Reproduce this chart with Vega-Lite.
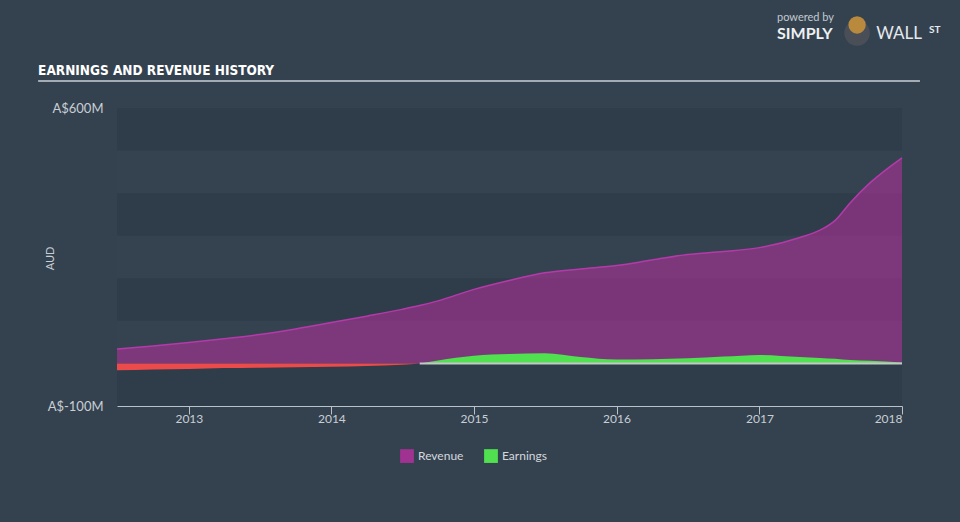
{
  "$schema": "https://vega.github.io/schema/vega-lite/v6.json",
  "width": 785,
  "height": 298,
  "autosize": {"type": "none"},
  "padding": {"left": 117, "top": 108, "right": 58, "bottom": 116},
  "background": "#344250",
  "config": {
    "font": "Lato",
    "view": {"fill": "#2f3c4a", "stroke": null},
    "legend": {
      "orient": "none",
      "legendX": 283,
      "legendY": 341,
      "direction": "horizontal",
      "symbolType": "square",
      "symbolSize": 190,
      "symbolOpacity": 1,
      "symbolStrokeWidth": 0,
      "labelFontSize": 12,
      "labelColor": "#d4d8dd",
      "columnPadding": 20,
      "padding": 0,
      "title": null
    }
  },
  "datasets": {
    "hist": [
      {"date": "2012-07-01", "revenue": 34, "earnings": -16},
      {"date": "2012-10-01", "revenue": 41, "earnings": -14},
      {"date": "2013-01-01", "revenue": 49, "earnings": -13},
      {"date": "2013-04-01", "revenue": 58, "earnings": -11},
      {"date": "2013-07-01", "revenue": 68, "earnings": -10},
      {"date": "2013-10-01", "revenue": 81, "earnings": -9},
      {"date": "2014-01-01", "revenue": 96, "earnings": -8},
      {"date": "2014-04-01", "revenue": 111, "earnings": -6},
      {"date": "2014-07-01", "revenue": 127, "earnings": -3},
      {"date": "2014-08-15", "revenue": 136, "earnings": 0},
      {"date": "2014-10-01", "revenue": 147, "earnings": 7},
      {"date": "2015-01-01", "revenue": 174, "earnings": 18},
      {"date": "2015-04-01", "revenue": 195, "earnings": 22},
      {"date": "2015-07-01", "revenue": 213, "earnings": 24},
      {"date": "2015-10-01", "revenue": 222, "earnings": 15},
      {"date": "2016-01-01", "revenue": 230, "earnings": 9},
      {"date": "2016-04-01", "revenue": 243, "earnings": 10},
      {"date": "2016-07-01", "revenue": 256, "earnings": 12},
      {"date": "2016-10-01", "revenue": 263, "earnings": 16},
      {"date": "2017-01-01", "revenue": 272, "earnings": 20},
      {"date": "2017-04-15", "revenue": 296, "earnings": 15},
      {"date": "2017-06-05", "revenue": 313, "earnings": 13},
      {"date": "2017-07-14", "revenue": 336, "earnings": 11},
      {"date": "2017-08-21", "revenue": 377, "earnings": 8},
      {"date": "2017-10-11", "revenue": 424, "earnings": 6},
      {"date": "2018-01-01", "revenue": 483, "earnings": 2}
    ],
    "one": [{"k": 1}]
  },
  "layer": [
    {
      "data": {"name": "one"},
      "mark": {"type": "rect", "fill": "#354351"},
      "encoding": {"x": {"value": 0}, "x2": {"value": 785}, "y": {"datum": 0, "type": "quantitative"}, "y2": {"datum": 100}}
    },
    {
      "data": {"name": "one"},
      "mark": {"type": "rect", "fill": "#354351"},
      "encoding": {"x": {"value": 0}, "x2": {"value": 785}, "y": {"datum": 200, "type": "quantitative"}, "y2": {"datum": 300}}
    },
    {
      "data": {"name": "one"},
      "mark": {"type": "rect", "fill": "#354351"},
      "encoding": {"x": {"value": 0}, "x2": {"value": 785}, "y": {"datum": 400, "type": "quantitative"}, "y2": {"datum": 500}}
    },
    {
      "data": {"name": "hist"},
      "mark": {"type": "area", "interpolate": "monotone", "fillOpacity": 0.67},
      "encoding": {
        "x": {
          "field": "date",
          "type": "temporal",
          "scale": {"type": "utc", "domain": [1341100800000, 1514764800000]},
          "axis": {
            "title": null,
            "format": "%Y",
            "tickCount": {"interval": "year", "step": 1},
            "grid": false,
            "domainColor": "#b9c1ca",
            "tickColor": "#b9c1ca",
            "tickSize": 8,
            "labelPadding": -1,
            "labelFontSize": 12,
            "labelColor": "#c9ced4",
            "labelFlush": true
          }
        },
        "y": {
          "field": "revenue",
          "type": "quantitative",
          "scale": {"domain": [-100, 600]},
          "axis": {
            "values": [-100, 600],
            "labelExpr": "'A$' + datum.value + 'M'",
            "grid": false,
            "domain": false,
            "ticks": false,
            "labelFlush": false,
            "labelPadding": 14,
            "labelFontSize": 13,
            "labelColor": "#c9ced4",
            "title": "AUD",
            "titleFontSize": 11,
            "titleFontWeight": "normal",
            "titleColor": "#c9ced4",
            "titleX": -67,
            "titleY": 150,
            "titleAlign": "center",
            "titleBaseline": "middle"
          }
        },
        "color": {
          "datum": "Revenue",
          "scale": {"domain": ["Revenue", "Earnings"], "range": ["#a03291", "#50e050"]}
        }
      }
    },
    {
      "data": {"name": "hist"},
      "mark": {"type": "line", "interpolate": "monotone", "color": "#b43aaa", "strokeWidth": 1.5},
      "encoding": {"x": {"field": "date", "type": "temporal"}, "y": {"field": "revenue", "type": "quantitative"}}
    },
    {
      "data": {"name": "hist"},
      "transform": [{"filter": "datum.earnings <= 0"}],
      "mark": {"type": "area", "interpolate": "monotone", "color": "#ec4b4b", "opacity": 1},
      "encoding": {"x": {"field": "date", "type": "temporal"}, "y": {"field": "earnings", "type": "quantitative"}}
    },
    {
      "data": {"name": "hist"},
      "transform": [{"filter": "datum.earnings >= 0"}],
      "mark": {"type": "area", "interpolate": "monotone", "opacity": 1},
      "encoding": {
        "x": {"field": "date", "type": "temporal"},
        "y": {"field": "earnings", "type": "quantitative"},
        "color": {"datum": "Earnings"}
      }
    },
    {
      "data": {"name": "hist"},
      "transform": [{"filter": "datum.earnings >= 0"}],
      "mark": {"type": "line", "color": "#c4c6c8", "strokeWidth": 2},
      "encoding": {"x": {"field": "date", "type": "temporal"}, "y": {"datum": 0, "type": "quantitative"}}
    },
    {
      "data": {"name": "one"},
      "mark": {"type": "rule", "color": "#a3abb5", "strokeWidth": 2},
      "encoding": {
        "x": {"datum": 1323648000000, "type": "temporal"},
        "x2": {"datum": 1518739200000},
        "y": {"datum": 663.4, "type": "quantitative"}
      }
    },
    {
      "data": {"name": "one"},
      "mark": {"type": "text", "align": "left", "baseline": "alphabetic", "font": "DejaVu Sans Condensed, Roboto, sans-serif", "fontSize": 13.5, "fontWeight": "bold", "color": "#ffffff"},
      "encoding": {
        "x": {"datum": 1323648000000, "type": "temporal"},
        "y": {"datum": 677.5, "type": "quantitative"},
        "text": {"value": "EARNINGS AND REVENUE HISTORY"}
      }
    },
    {
      "data": {"name": "one"},
      "mark": {"type": "text", "align": "left", "baseline": "middle", "fontSize": 11, "color": "#c3c9cf"},
      "encoding": {
        "x": {"datum": 1487116800000, "type": "temporal"},
        "y": {"datum": 812, "type": "quantitative"},
        "text": {"value": "powered by"}
      }
    },
    {
      "data": {"name": "one"},
      "mark": {"type": "text", "align": "left", "baseline": "middle", "fontSize": 16, "fontWeight": "bold", "color": "#eef0f2"},
      "encoding": {
        "x": {"datum": 1487116800000, "type": "temporal"},
        "y": {"datum": 773, "type": "quantitative"},
        "text": {"value": "SIMPLY"}
      }
    },
    {
      "data": {"name": "one"},
      "mark": {"type": "point", "shape": "circle", "filled": true, "size": 650, "color": "#4a4f57", "opacity": 1},
      "encoding": {
        "x": {"datum": 1504828800000, "type": "temporal"},
        "y": {"datum": 776, "type": "quantitative"}
      }
    },
    {
      "data": {"name": "one"},
      "mark": {"type": "point", "shape": "circle", "filled": true, "size": 300, "color": "#b98a3e", "opacity": 1},
      "encoding": {
        "x": {"datum": 1504828800000, "type": "temporal"},
        "y": {"datum": 795, "type": "quantitative"}
      }
    },
    {
      "data": {"name": "one"},
      "mark": {"type": "text", "align": "left", "baseline": "middle", "fontSize": 17, "color": "#e6e9ec"},
      "encoding": {
        "x": {"datum": 1509062400000, "type": "temporal"},
        "y": {"datum": 774, "type": "quantitative"},
        "text": {"value": "WALL"}
      }
    },
    {
      "data": {"name": "one"},
      "mark": {"type": "text", "align": "left", "baseline": "middle", "fontSize": 10, "fontWeight": "bold", "color": "#e6e9ec"},
      "encoding": {
        "x": {"datum": 1520726400000, "type": "temporal"},
        "y": {"datum": 783, "type": "quantitative"},
        "text": {"value": "ST"}
      }
    }
  ]
}
